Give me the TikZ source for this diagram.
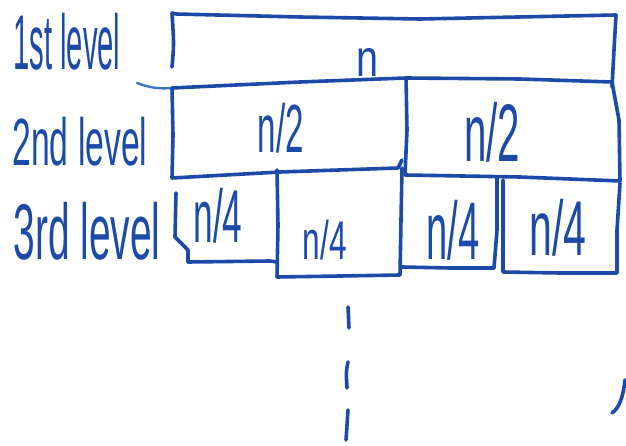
\documentclass[tikz,border=0pt]{standalone}
\usepackage{fontspec}
\setmainfont{Liberation Sans}
\usepackage{graphicx}
\definecolor{ink}{RGB}{28,74,168}
\definecolor{inklight}{RGB}{60,120,200}
% hand-lettered text squeezed into a given width and total height
\newcommand{\handtext}[3]{\resizebox*{#1pt}{#2pt}{#3}}
\tikzset{
  pen/.style={draw=ink, line width=3.6pt, line cap=round, line join=round},
  lbl/.style={text=ink, inner sep=0pt, outer sep=0pt}
}
\begin{document}
\begin{tikzpicture}[x=1pt, y=-1pt]
\useasboundingbox (0,0) rectangle (626,446);

% level labels
\node[lbl] (lvl1) at (67,42)  {\handtext{107}{57}{1st level}};
\node[lbl] (lvl2) at (80,142) {\handtext{135}{49}{2nd level}};
\node[lbl] (lvl3) at (87,231) {\handtext{147}{58}{3rd level}};

% first level: whole array
\draw[pen] (172,67) .. controls (174,45) .. (172,13) -- (176,14) -- (300,17) -- (420,19) -- (616,15)
           -- (614,50) -- (612,87);
% shared line under the first level, with its tail on the left
\draw[pen, draw=inklight, line width=2.4pt] (137,83) .. controls (150,88) and (160,89) .. (172,88);
\draw[pen] (172,88) -- (300,82) -- (406,78) -- (520,79) -- (612,82);

% second level: two halves
\draw[pen] (172,88) -- (173,135) -- (172,178) -- (280,172) -- (398,168) -- (402,160);
\draw[pen] (406,78) -- (407,130) -- (405,175) -- (520,177) -- (620,181);
\draw[pen] (612,82) -- (619,120) -- (620,181);

% third level: four quarters
\draw[pen] (176,193) -- (175,237) -- (188,250) -- (188,262) -- (270,261) -- (277,262);
\draw[pen] (277,170) -- (278,225) -- (277,277) -- (340,276) -- (400,275) -- (401,220) -- (402,168);
\draw[pen] (402,267) -- (450,268) -- (494,268) -- (497,230) -- (497,178);
\draw[pen] (503,180) -- (503,230) -- (503,272) -- (560,273) -- (617,273) -- (617,230) -- (620,183);

% sizes written in the boxes
\node[lbl] (n)   at (367,63)  {\handtext{22}{28}{n}};
\node[lbl] (h1)  at (281,128) {\handtext{46}{50}{n/2}};
\node[lbl] (h2)  at (492,132) {\handtext{56}{60}{n/2}};
\node[lbl] (q1)  at (218,216) {\handtext{49}{55}{n/4}};
\node[lbl] (q2)  at (325,240) {\handtext{44}{40}{n/4}};
\node[lbl] (q3)  at (453,230) {\handtext{53}{60}{n/4}};
\node[lbl] (q4)  at (558,228) {\handtext{57}{57}{n/4}};

% continuation marks below
\draw[pen] (348,307) -- (349,328);
\draw[pen] (348,362) .. controls (346,372) .. (347,388);
\draw[pen] (348,410) -- (346,440);
\draw[pen] (625,380) .. controls (623,398) and (619,408) .. (612,413);
\end{tikzpicture}
\end{document}
